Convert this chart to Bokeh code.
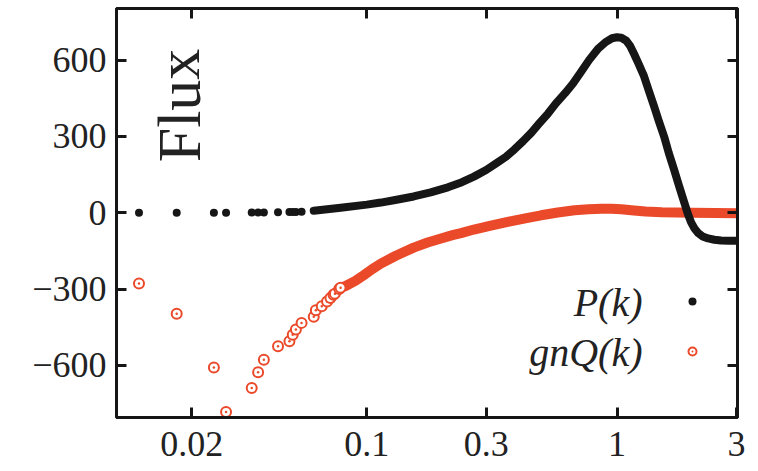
from bokeh.plotting import figure
from bokeh.models import (FixedTicker, CustomJSTickFormatter, LinearAxis, LogAxis,
                          Label, Legend, LegendItem, Range1d)
from bokeh.embed import file_html
from bokeh.resources import INLINE

# isolated low-k modes (one point per shell)
k_low = [0.0123, 0.0174, 0.0245, 0.0274, 0.0347, 0.0368, 0.0388, 0.0442,
         0.0491, 0.0506, 0.0521, 0.0549]
P_low = [0, 0, 0, 0, 1, 1, 1, 2, 3, 3, 3, 4]

kq_low = k_low + [0.0614, 0.0626, 0.0661, 0.0694, 0.0716, 0.0736, 0.0746, 0.0776, 0.0786]
Q_low = [-278, -397, -608, -783, -689, -627, -578, -525, -505, -480, -459, -433,
         -409, -383, -368, -349, -335, -322, -318, -300, -295]

# densely sampled shells
k_P = [0.0614, 0.0787, 0.1, 0.1138, 0.13, 0.154, 0.18, 0.211, 0.24, 0.268, 0.30,
       0.33, 0.36, 0.39, 0.421, 0.455, 0.488, 0.53, 0.57, 0.62, 0.667, 0.72, 0.773,
       0.84, 0.904, 0.955, 1.0, 1.04, 1.09, 1.13, 1.169, 1.22, 1.282, 1.34, 1.406,
       1.47, 1.542, 1.61, 1.69, 1.77, 1.854, 1.92, 1.977, 2.04, 2.109, 2.2, 2.312,
       2.45, 2.606, 2.8, 3.03]
P = [8, 20, 32, 40, 50, 64, 80, 100, 120, 142, 168, 195, 220, 250, 281, 315, 350,
     390, 430, 470, 508, 555, 600, 645, 672, 686, 690, 688, 676, 655, 625, 585, 537,
     480, 419, 360, 300, 235, 170, 105, 42, -5, -38, -62, -80, -93, -101, -106,
     -109, -110, -110]

k_Q = [0.0786, 0.0823, 0.09, 0.0974, 0.105, 0.1138, 0.13, 0.154, 0.175, 0.198,
       0.22, 0.238, 0.268, 0.31, 0.366, 0.43, 0.497, 0.58, 0.676, 0.77, 0.868, 0.95,
       1.04, 1.169, 1.3, 1.51, 2.0, 3.03]
Q = [-295, -288, -268, -245, -222, -200, -170, -137, -117, -101, -88, -80, -66, -52,
     -36, -22, -10, 1, 10, 14, 16, 16, 14, 9, 5, 2, 0, -2]

x_ticks = [0.02, 0.1, 0.3, 1, 3]
y_ticks = [-600, -300, 0, 300, 600]

BLACK = "#161616"
RED = "#eb4a2a"
SERIF = "Liberation Serif"

p = figure(width=758, height=471, x_axis_type="log",
           x_range=Range1d(0.01, 3.03), y_range=Range1d(-805, 803),
           output_backend="svg", toolbar_location=None,
           min_border_left=116, min_border_right=21,
           min_border_top=8, min_border_bottom=54)
p.grid.visible = False
p.background_fill_color = "white"
p.border_fill_color = "white"
p.outline_line_color = BLACK
p.outline_line_width = 3

fmt = CustomJSTickFormatter(code="return tick < 0 ? '\u2212' + String(-tick) : String(tick);")
blank = CustomJSTickFormatter(code="return '';")

def style(ax):
    ax.axis_line_width = 3
    ax.axis_line_color = BLACK
    ax.major_tick_line_width = 3
    ax.major_tick_line_color = BLACK
    ax.major_tick_in = 10
    ax.major_tick_out = 0
    ax.minor_tick_line_color = None
    ax.major_label_text_font = SERIF
    ax.major_label_text_color = "#222222"
    ax.major_label_text_font_size = "36px"

p.xaxis.ticker = FixedTicker(ticks=x_ticks)
p.yaxis.ticker = FixedTicker(ticks=y_ticks)
p.xaxis.formatter = fmt
p.yaxis.formatter = fmt
style(p.xaxis[0])
style(p.yaxis[0])
p.xaxis.major_label_standoff = 14
p.yaxis.major_label_standoff = 10

# mirrored tick marks on the top and right edges
top = LogAxis(ticker=FixedTicker(ticks=x_ticks), formatter=blank)
right = LinearAxis(ticker=FixedTicker(ticks=y_ticks), formatter=blank)
for ax in (top, right):
    style(ax)
    ax.major_label_text_font_size = "10px"
    ax.major_label_standoff = 0
p.add_layout(top, "above")
p.add_layout(right, "right")

# gnQ(k)
p.line(k_Q, Q, line_color=RED, line_width=10, line_cap="round", line_join="round")
rq = p.scatter(kq_low, Q_low, marker="circle_dot", size=10, line_color=RED,
               line_width=2, fill_color="white")
# P(k)
p.line(k_P, P, line_color=BLACK, line_width=8, line_cap="round", line_join="round")
rp = p.scatter(k_low, P_low, marker="circle", size=8, line_color=None, fill_color=BLACK)

legend = Legend(items=[LegendItem(label=" ", renderers=[rp]),
                       LegendItem(label=" ", renderers=[rq])],
                location=(566, 56), orientation="vertical",
                glyph_width=20, glyph_height=20, label_height=20,
                label_text_font_size="1px", spacing=30, padding=0, margin=0,
                border_line_color=None, background_fill_alpha=0)
p.add_layout(legend, "center")

for txt, yy in (("P(k)", 115), ("gnQ(k)", 65)):
    p.add_layout(Label(x=526, y=yy, x_units="screen", y_units="screen", text=txt,
                       text_font=SERIF, text_font_style="italic",
                       text_font_size="40px", text_color="#222222",
                       text_align="right", text_baseline="middle"))

p.add_layout(Label(x=62, y=312, x_units="screen", y_units="screen", text="Flux",
                   angle=1.5708, text_font=SERIF, text_font_size="62px",
                   text_color="#222222", text_align="center", text_baseline="middle"))

open("out.html", "w").write(file_html(p, INLINE))
